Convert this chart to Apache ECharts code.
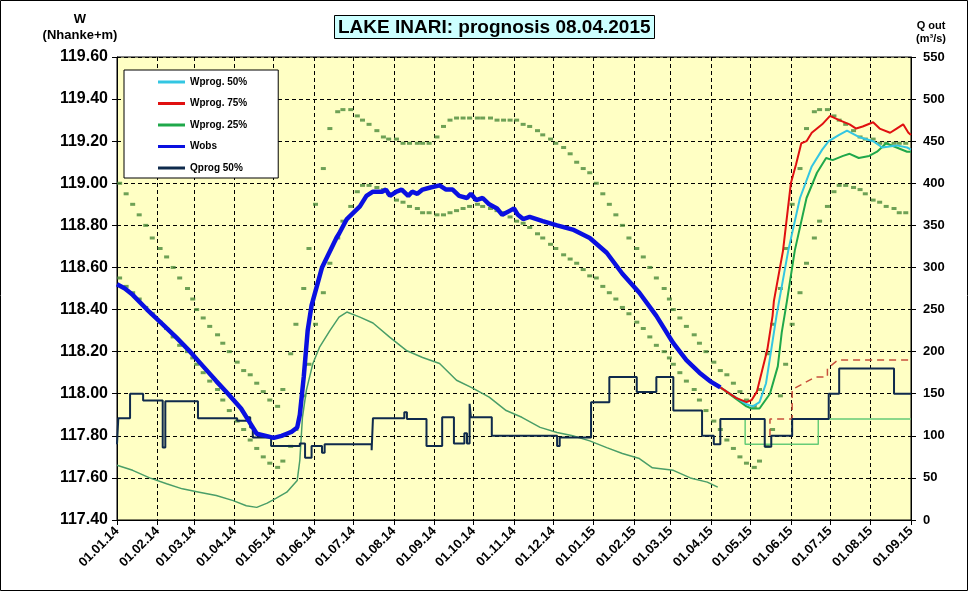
<!DOCTYPE html>
<html><head><meta charset="utf-8">
<script src="https://cdn.jsdelivr.net/npm/echarts@6/dist/echarts.min.js"></script>
<style>html,body{margin:0;padding:0;background:#fff}#c{width:969px;height:592px}</style>
</head><body><div id="c"></div>
<script>
const FONT = '"Liberation Sans", Arial, sans-serif';

// ---- Observed water level W (m) ----
const wobsDates = ['2014-01-01','2014-01-07','2014-01-13','2014-01-24','2014-02-05','2014-02-15','2014-02-26','2014-03-08','2014-03-18','2014-03-27','2014-04-06','2014-04-12','2014-04-18','2014-04-25','2014-05-01','2014-05-07','2014-05-11','2014-05-15','2014-05-19','2014-05-21','2014-05-24','2014-05-27','2014-05-30','2014-06-07','2014-06-18','2014-06-20','2014-06-26','2014-07-06','2014-07-11','2014-07-16','2014-07-23','2014-07-26','2014-07-29','2014-08-03','2014-08-07','2014-08-12','2014-08-15','2014-08-19','2014-08-23','2014-08-29','2014-09-05','2014-09-10','2014-09-15','2014-09-20','2014-09-26','2014-09-29','2014-10-03','2014-10-08','2014-10-13','2014-10-19','2014-10-23','2014-10-29','2014-11-01','2014-11-04','2014-11-08','2014-11-13','2014-11-23','2014-12-04','2014-12-16','2014-12-29','2015-01-11','2015-01-23','2015-02-05','2015-02-18','2015-03-03','2015-03-13','2015-03-23','2015-03-31','2015-04-08'];
const wobsValues = [118.52,118.50,118.47,118.40,118.33,118.27,118.20,118.13,118.06,118.00,117.93,117.87,117.81,117.80,117.79,117.80,117.81,117.82,117.84,117.90,118.08,118.30,118.42,118.60,118.74,118.76,118.83,118.89,118.94,118.96,118.96,118.97,118.94,118.96,118.97,118.94,118.96,118.95,118.97,118.98,118.99,118.97,118.97,118.94,118.93,118.95,118.92,118.93,118.90,118.88,118.85,118.87,118.88,118.85,118.83,118.84,118.82,118.80,118.78,118.74,118.67,118.57,118.48,118.37,118.24,118.16,118.10,118.06,118.03];

// ---- Water level prognoses ----
const w75Dates = ['2015-04-08','2015-04-20','2015-04-28','2015-05-02','2015-05-06','2015-05-10','2015-05-14','2015-05-18','2015-05-19','2015-05-26','2015-06-01','2015-06-05','2015-06-09','2015-06-13','2015-06-17','2015-06-25','2015-07-01','2015-07-08','2015-07-16','2015-07-21','2015-07-26','2015-08-03','2015-08-08','2015-08-16','2015-08-21','2015-08-26','2015-08-30','2015-09-01'];
const w75Values = [118.03,117.98,117.96,117.97,118.01,118.11,118.21,118.37,118.44,118.68,119.00,119.09,119.19,119.20,119.24,119.28,119.32,119.30,119.28,119.26,119.27,119.29,119.26,119.24,119.26,119.28,119.24,119.23];
const w50Dates = ['2015-04-08','2015-04-28','2015-05-03','2015-05-08','2015-05-13','2015-05-17','2015-05-21','2015-05-23','2015-05-30','2015-06-08','2015-06-17','2015-06-25','2015-06-30','2015-07-08','2015-07-14','2015-07-23','2015-08-03','2015-08-10','2015-08-21','2015-08-29','2015-09-01'];
const w50Values = [118.03,117.95,117.94,117.96,118.05,118.21,118.37,118.44,118.68,118.93,119.08,119.16,119.20,119.23,119.25,119.22,119.20,119.17,119.18,119.17,119.16];
const w25Dates = ['2015-04-08','2015-04-28','2015-05-02','2015-05-08','2015-05-16','2015-05-22','2015-05-25','2015-05-29','2015-06-04','2015-06-13','2015-06-21','2015-06-28','2015-07-03','2015-07-11','2015-07-16','2015-07-23','2015-07-31','2015-08-06','2015-08-13','2015-08-21','2015-08-29','2015-09-01'];
const w25Values = [118.03,117.94,117.93,117.93,118.00,118.13,118.29,118.44,118.68,118.93,119.05,119.12,119.11,119.13,119.14,119.12,119.13,119.15,119.19,119.17,119.15,119.15];

// ---- Annual limit profiles (day of year -> W), same in both years ----
const limitDays = [2,7,12,17,22,27,33,38,43,48,54,58,61,66,71,77,81,86,92,97,102,107,112,117,123,127,133,137,143,147,152,158,163,169,173,179,184,188,193,199,204,208,214,219,224,230,234,239,245,250,255,260,265,270,276,280,286,291,296,301,306,311,316,322,326,332,336,342,347,352,357,362];
const upperLimit = [119.00,118.95,118.90,118.85,118.80,118.74,118.69,118.65,118.60,118.55,118.50,118.45,118.40,118.36,118.32,118.28,118.24,118.20,118.15,118.11,118.09,118.05,118.01,117.97,117.94,118.02,118.19,118.33,118.50,118.69,118.90,119.07,119.26,119.34,119.35,119.35,119.32,119.30,119.28,119.25,119.22,119.21,119.21,119.19,119.19,119.19,119.19,119.19,119.22,119.27,119.30,119.31,119.31,119.31,119.31,119.31,119.31,119.30,119.30,119.30,119.30,119.28,119.27,119.25,119.23,119.21,119.19,119.17,119.14,119.10,119.07,119.05];
const lowerLimit = [118.55,118.51,118.48,118.45,118.41,118.38,118.34,118.31,118.27,118.23,118.20,118.17,118.14,118.10,118.06,118.02,117.97,117.92,117.87,117.83,117.78,117.74,117.70,117.67,117.65,117.68,117.75,117.83,117.99,118.14,118.33,118.48,118.62,118.74,118.82,118.89,118.96,118.99,118.99,118.98,118.97,118.95,118.92,118.91,118.89,118.88,118.86,118.86,118.85,118.85,118.86,118.87,118.88,118.89,118.90,118.89,118.88,118.87,118.86,118.84,118.82,118.81,118.79,118.76,118.74,118.71,118.69,118.66,118.64,118.62,118.59,118.56];
const limitYears = [2014, 2015];

// ---- Discharge Q (m3/s) ----
const qinDates = ['2014-01-01','2014-01-13','2014-01-26','2014-02-08','2014-02-20','2014-03-05','2014-03-18','2014-03-31','2014-04-10','2014-04-18','2014-04-26','2014-05-03','2014-05-11','2014-05-19','2014-05-21','2014-05-23','2014-05-26','2014-05-31','2014-06-05','2014-06-13','2014-06-20','2014-06-26','2014-07-06','2014-07-16','2014-07-29','2014-08-11','2014-08-23','2014-09-05','2014-09-18','2014-09-30','2014-10-13','2014-10-26','2014-11-07','2014-11-21','2014-12-04','2014-12-16','2014-12-29','2015-01-11','2015-01-23','2015-02-05','2015-02-15','2015-03-03','2015-03-16','2015-03-29','2015-04-06'];
const qinValues = [65,59,50,43,37,33,29,23,17,15,20,26,33,47,71,122,154,186,205,225,241,247,241,234,217,201,193,186,166,157,146,130,122,110,104,100,94,86,79,73,62,59,50,45,39];

const q50Dates = ['2014-01-01','2014-01-02','2014-01-11','2014-01-21','2014-02-05','2014-02-07','2014-03-04','2014-04-03','2014-04-11','2014-04-13','2014-04-15','2014-04-29','2014-05-21','2014-05-25','2014-05-30','2014-06-07','2014-06-09','2014-07-15','2014-07-16','2014-08-09','2014-08-11','2014-08-26','2014-09-07','2014-09-16','2014-09-24','2014-09-26','2014-09-28','2014-09-29','2014-10-15','2014-12-04','2014-12-06','2014-12-30','2015-01-13','2015-02-03','2015-02-18','2015-03-03','2015-03-25','2015-04-03','2015-04-08','2015-05-12','2015-05-17','2015-06-02','2015-06-30','2015-07-08','2015-08-19','2015-09-01'];
const q50Values = [90,121,150,142,86,141,121,118,122,110,98,88,91,74,88,80,90,83,121,128,120,88,122,91,103,91,138,122,100,88,98,140,170,152,170,130,100,90,120,87,100,120,150,180,150,150];
const q25Dates = ['2015-04-08','2015-04-27','2015-06-22','2015-09-01'];
const q25Values = [120,90,120,120];
const q75Dates = ['2015-05-16','2015-05-16','2015-06-02','2015-06-02','2015-06-20','2015-06-29','2015-06-29','2015-07-07','2015-09-01'];
const q75Values = [100,120,120,155,170,170,180,190,190];

// ---- axis ticks ----
const wMin = 117.4, wMax = 119.6, wStep = 0.2;
const qMin = 0, qMax = 550, qStep = 50;

function t(s){ const p = s.split('-').map(Number); return new Date(p[0], p[1]-1, p[2]).getTime(); }
function pairs(ds, vs){ return ds.map((d,i)=>[t(d), vs[i]]); }
const tMin = t('2014-01-01'), tMax = t('2015-09-01');
function limitSeries(vals){
  const out = [];
  limitYears.forEach(y => limitDays.forEach((d,i) => {
    const tt = new Date(y, 0, 1 + d).getTime();
    if (tt <= tMax) out.push([tt, vals[i]]);
  }));
  return out;
}
function fmtDate(v){
  const d = new Date(v);
  const p = n => (n < 10 ? '0' : '') + n;
  return p(d.getDate()) + '.' + p(d.getMonth()+1) + '.' + p(d.getFullYear() % 100);
}

const chart = echarts.init(document.getElementById('c'), null, {renderer:'canvas'});
const dashStyle = {color:'#000', type:[4,3], width:1};
chart.setOption({
  animation:false,
  backgroundColor:'#fff',
  title:{
    text:'LAKE INARI: prognosis 08.04.2015',
    left:334, top:15, padding:[3,4,2,4],
    backgroundColor:'#ccffff', borderColor:'#000', borderWidth:1,
    textStyle:{fontFamily:FONT, fontSize:19, fontWeight:'bold', color:'#000'}
  },
  legend:{
    data:['Wprog. 50%','Wprog. 75%','Wprog. 25%','Wobs','Qprog 50%'],
    orient:'vertical', left:124, top:70, padding:[6,31,4,34],
    itemGap:9.5, itemWidth:27, itemHeight:3, icon:'rect',
    backgroundColor:'#fff', borderColor:'#000', borderWidth:1,
    textStyle:{fontFamily:FONT, fontSize:10, fontWeight:'bold', color:'#000', lineHeight:12},
    selectedMode:false
  },
  grid:{left:117, right:58, top:57, bottom:72, show:true, backgroundColor:'#ffffc4', borderColor:'#000', borderWidth:1},
  xAxis:{
    type:'time', min:tMin, max:tMax, splitNumber:20,
    minInterval:28*864e5, maxInterval:31*864e5,
    axisLine:{lineStyle:{color:'#000', width:1}},
    axisTick:{show:true, length:5, lineStyle:{color:'#000'}},
    axisLabel:{rotate:45, margin:9, fontFamily:FONT, fontSize:13, fontWeight:'bold', color:'#000', formatter:fmtDate, hideOverlap:false, showMinLabel:true, showMaxLabel:true},
    splitLine:{show:true, lineStyle:dashStyle}
  },
  yAxis:[{
    type:'value', min:wMin, max:wMax, interval:wStep, position:'left',
    axisLine:{show:true, lineStyle:{color:'#000'}},
    axisTick:{show:true, length:5, lineStyle:{color:'#000'}},
    axisLabel:{margin:9, fontFamily:FONT, fontSize:16, fontWeight:'bold', color:'#000', formatter:v=>v.toFixed(2)},
    splitLine:{show:true, lineStyle:dashStyle}
  },{
    type:'value', min:qMin, max:qMax, interval:qStep, position:'right',
    axisLine:{show:true, lineStyle:{color:'#000'}},
    axisTick:{show:true, length:5, lineStyle:{color:'#000'}},
    axisLabel:{margin:12, fontFamily:FONT, fontSize:13, fontWeight:'bold', color:'#000'},
    splitLine:{show:false}
  }],
  graphic:[
    {type:'rect', shape:{x:0.5, y:0.5, width:967, height:590}, style:{fill:'none', stroke:'#000', lineWidth:1}, silent:true},
    {type:'text', x:80, y:13, style:{text:'W', font:'bold 13px '+FONT, fill:'#000', align:'center'}},
    {type:'text', x:80, y:29, style:{text:'(Nhanke+m)', font:'bold 13px '+FONT, fill:'#000', align:'center'}},
    {type:'text', x:931, y:20, style:{text:'Q out', font:'bold 11px '+FONT, fill:'#000', align:'center'}},
    {type:'text', x:931, y:33, style:{text:'(m³/s)', font:'bold 11px '+FONT, fill:'#000', align:'center'}}
  ],
  series:[
    {name:'Upper limit', type:'scatter', data:limitSeries(upperLimit), symbol:'rect', symbolSize:[5,3], itemStyle:{color:'#4a8a3a'}, silent:true, z:2},
    {name:'Lower limit', type:'scatter', data:limitSeries(lowerLimit), symbol:'rect', symbolSize:[5,3], itemStyle:{color:'#4a8a3a'}, silent:true, z:2},
    {name:'Qin', type:'line', yAxisIndex:1, data:pairs(qinDates,qinValues), showSymbol:false, lineStyle:{color:'#4a9e68', width:1.5}, silent:true, z:3},
    {name:'Qprog 25%', type:'line', yAxisIndex:1, step:'end', data:pairs(q25Dates,q25Values), showSymbol:false, lineStyle:{color:'#66cc77', width:1.5}, silent:true, z:3},
    {name:'Qprog 75%', type:'line', yAxisIndex:1, data:pairs(q75Dates,q75Values), showSymbol:false, lineStyle:{color:'#c8503c', width:1.5, type:[7,5]}, silent:true, z:3},
    {name:'Qprog 50%', type:'line', yAxisIndex:1, step:'end', data:pairs(q50Dates,q50Values), showSymbol:false, itemStyle:{color:'#0f2a4c'}, lineStyle:{color:'#0f2a4c', width:2}, silent:true, z:4},
    {name:'Wprog. 25%', type:'line', data:pairs(w25Dates,w25Values), showSymbol:false, itemStyle:{color:'#1fa84a'}, lineStyle:{color:'#1fa84a', width:2}, silent:true, z:5},
    {name:'Wprog. 50%', type:'line', data:pairs(w50Dates,w50Values), showSymbol:false, itemStyle:{color:'#33c6e2'}, lineStyle:{color:'#33c6e2', width:2}, silent:true, z:5},
    {name:'Wprog. 75%', type:'line', data:pairs(w75Dates,w75Values), showSymbol:false, itemStyle:{color:'#e01010'}, lineStyle:{color:'#e01010', width:2}, silent:true, z:5},
    {name:'Wobs', type:'line', data:pairs(wobsDates,wobsValues), showSymbol:false, itemStyle:{color:'#0a10e0'}, lineStyle:{color:'#0a10e0', width:4.5}, silent:true, z:6}
  ]
});
</script>
</body></html>
